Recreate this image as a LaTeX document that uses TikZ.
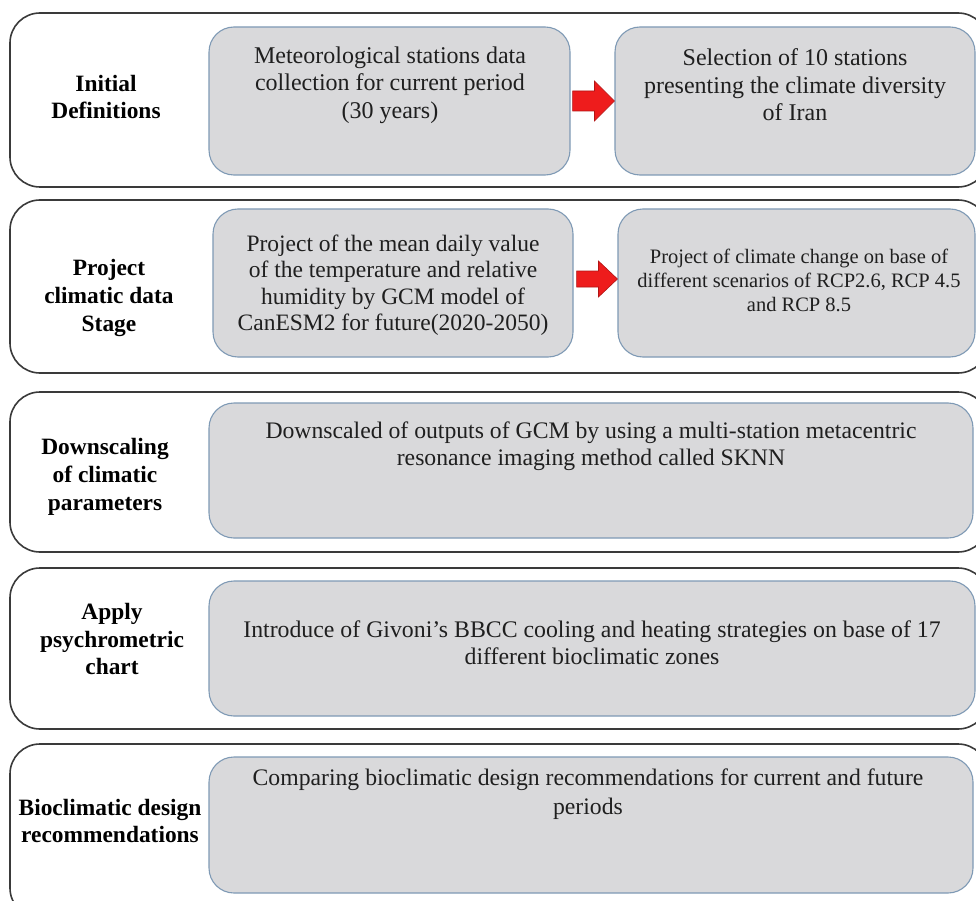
\documentclass[tikz,border=0pt]{standalone}
\usepackage{fontspec}
\setmainfont{Liberation Serif}
\usetikzlibrary{fit,calc}
\definecolor{ingray}{HTML}{D9D9DB}
\definecolor{inedge}{HTML}{7F9AB5}
\definecolor{outedge}{HTML}{3A3A3A}
\definecolor{arrred}{HTML}{EE1C1C}
\definecolor{arredge}{HTML}{B01515}
\tikzset{
  outbox/.style={draw=outedge, line width=1.6pt, rounded corners=30pt, inner sep=0pt, fill=white},
  inbox/.style={draw=inedge, line width=1.1pt, rounded corners=25pt, inner sep=0pt, fill=ingray},
  label/.style={font=\fontsize{23.4}{27.8}\selectfont\bfseries, align=center, text=black},
  body/.style={font=\fontsize{24}{27.5}\selectfont, align=center, text=black!88},
  small/.style={font=\fontsize{20.5}{24}\selectfont, align=center, text=black!88},
  redarrow/.style={fill=arrred, draw=arredge, line width=0.6pt}
}
\begin{document}
\begin{tikzpicture}[x=1pt,y=-1pt]
\useasboundingbox (0,0) rectangle (976,901);
\clip (0,0) rectangle (976,901);
\fill[white] (0,0) rectangle (976,901);
% outer frames
\node[outbox, fit={(10,13) (988,187)}] (o1) {};
\node[outbox, fit={(10,200) (988,373)}] (o2) {};
\node[outbox, fit={(10,392) (988,552)}] (o3) {};
\node[outbox, fit={(10,568) (988,729)}] (o4) {};
\node[outbox, fit={(10,744) (988,918)}] (o5) {};
% inner boxes
\node[inbox, fit={(209,27) (570,175)}] (b1a) {};
\node[inbox, fit={(615,27) (975,175)}] (b1b) {};
\node[inbox, fit={(213,209) (573,357)}] (b2a) {};
\node[inbox, fit={(618,209) (975,357)}] (b2b) {};
\node[inbox, fit={(209,403) (973,538)}] (b3) {};
\node[inbox, fit={(209,581) (975,716)}] (b4) {};
\node[inbox, fit={(209,757) (973,893)}] (b5) {};
% labels
\node[label] (l1) at (106,97) {Initial\\Definitions};
\node[label] (l2) at (109,298) {Project\\climatic data\\Stage};
\node[label] (l3) at (105,477) {Downscaling\\of climatic\\parameters};
\node[label] (l4) at (112,639) {Apply\\psychrometric\\chart};
\node[label] (l5) at (110,821) {Bioclimatic design\\recommendations};
% texts
\node[body] (t1a) at (390,85) {Meteorological stations data\\collection for current period\\(30 years)};
\node[body] (t1b) at (795,85) {Selection of 10 stations\\presenting the climate diversity\\of Iran};
\node[body, font=\fontsize{23.5}{26.5}\selectfont] (t2a) at (393,285) {Project of the mean daily value\\of the temperature and relative\\humidity by GCM model of\\CanESM2 for future(2020-2050)};
\node[small] (t2b) at (799,280) {Project of climate change on base of\\different scenarios of RCP2.6, RCP 4.5\\and RCP 8.5};
\node[body, font=\fontsize{23.7}{26.5}\selectfont] (t3) at (591,446) {Downscaled of outputs of GCM by using a multi-station metacentric\\resonance imaging method called SKNN};
\node[body, font=\fontsize{23.8}{27}\selectfont] (t4) at (592,643) {Introduce of Givoni's BBCC cooling and heating strategies on base of 17\\different bioclimatic zones};
\node[body, font=\fontsize{23.7}{29}\selectfont] (t5) at (588,794) {Comparing bioclimatic design recommendations for current and future\\periods};
% red block arrows
\draw[redarrow] ($(b1a.east)+(2,-10)$) -- ($(b1b.west)+(-20,-10)$) -- ($(b1b.west)+(-20,-20)$) -- (b1b.west)
  -- ($(b1b.west)+(-20,20)$) -- ($(b1b.west)+(-20,10)$) -- ($(b1a.east)+(2,10)$) -- cycle;
\draw[redarrow] ($(b2a.east)+(3,-12)$) -- ($(b2b.west)+(-19,-12)$) -- ($(b2b.west)+(-19,-22)$) -- ($(b2b.west)+(0,-4)$)
  -- ($(b2b.west)+(-19,14)$) -- ($(b2b.west)+(-19,4)$) -- ($(b2a.east)+(3,4)$) -- cycle;
\end{tikzpicture}
\end{document}
